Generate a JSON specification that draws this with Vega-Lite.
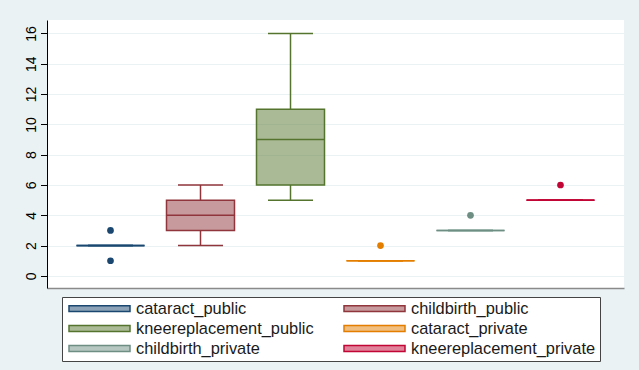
{
  "$schema": "https://vega.github.io/schema/vega-lite/v6.json",
  "autosize": {"type": "none"},
  "width": 577,
  "height": 268,
  "padding": {"left": 47, "top": 20, "right": 15, "bottom": 82},
  "background": "#eaf2f3",
  "config": {
    "font": "Liberation Sans",
    "view": {"fill": "white", "stroke": null},
    "axisY": {
      "title": null,
      "values": [0, 2, 4, 6, 8, 10, 12, 14, 16],
      "labelAngle": 270,
      "labelAlign": "center",
      "labelBaseline": "alphabetic",
      "labelFontSize": 14,
      "labelColor": "black",
      "labelPadding": 5.5,
      "tickSize": 6.5,
      "tickColor": "black",
      "tickWidth": 1,
      "domainColor": "black",
      "domainWidth": 1,
      "grid": true,
      "gridColor": "#eaf2f3",
      "gridWidth": 1.2
    },
    "axisX": {
      "title": null,
      "labels": false,
      "ticks": false,
      "grid": false,
      "domainColor": "#8a8a8a",
      "domainWidth": 1.5
    },
    "legend": {
      "orient": "none",
      "legendX": 15,
      "legendY": 277,
      "direction": "horizontal",
      "columns": 2,
      "padding": 4,
      "rowPadding": 3,
      "columnPadding": 27,
      "clipHeight": 15,
      "symbolType": "M-1,-0.095H1V0.095H-1Z",
      "symbolSize": 3721,
      "symbolOffset": 2,
      "labelOffset": 5,
      "labelFont": "Liberation Sans",
      "labelFontSize": 16.4,
      "labelColor": "#1a1a1a",
      "labelLimit": 400,
      "fillColor": "white",
      "strokeColor": "#444444",
      "strokeWidth": 1
    }
  },
  "datasets": {
    "boxes": [
      {"group": "cataract_public", "lower": 2, "q1": 2, "median": 2, "q3": 2, "upper": 2},
      {"group": "childbirth_public", "lower": 2, "q1": 3, "median": 4, "q3": 5, "upper": 6},
      {"group": "kneereplacement_public", "lower": 5, "q1": 6, "median": 9, "q3": 11, "upper": 16},
      {"group": "cataract_private", "lower": 1, "q1": 1, "median": 1, "q3": 1, "upper": 1},
      {"group": "childbirth_private", "lower": 3, "q1": 3, "median": 3, "q3": 3, "upper": 3},
      {"group": "kneereplacement_private", "lower": 5, "q1": 5, "median": 5, "q3": 5, "upper": 5}
    ],
    "outliers": [
      {"group": "cataract_public", "value": 1},
      {"group": "cataract_public", "value": 3},
      {"group": "cataract_private", "value": 2},
      {"group": "childbirth_private", "value": 4},
      {"group": "kneereplacement_private", "value": 6}
    ]
  },
  "encoding": {
    "x": {
      "field": "group",
      "type": "nominal",
      "scale": {
        "domain": ["cataract_public", "childbirth_public", "kneereplacement_public", "cataract_private", "childbirth_private", "kneereplacement_private"],
        "paddingInner": 0.2444,
        "paddingOuter": 0.3278
      }
    },
    "color": {
      "field": "group",
      "type": "nominal",
      "scale": {
        "domain": ["cataract_public", "childbirth_public", "kneereplacement_public", "cataract_private", "childbirth_private", "kneereplacement_private"],
        "range": ["#1a476f", "#90353b", "#55752f", "#e37e00", "#6e8e84", "#c10534"]
      },
      "legend": {
        "title": null,
        "encode": {
          "symbols": {
            "update": {
              "fill": {"scale": "color", "field": "value"},
              "fillOpacity": {"value": 0.5},
              "stroke": {"scale": "color", "field": "value"},
              "strokeWidth": {"value": 1.5},
              "opacity": {"value": 1}
            }
          }
        }
      }
    }
  },
  "layer": [
    {
      "data": {"name": "boxes"},
      "mark": {"type": "rule", "strokeWidth": 1.5},
      "encoding": {
        "y": {"field": "lower", "type": "quantitative", "scale": {"domain": [-0.8, 16.89], "nice": false, "zero": false}},
        "y2": {"field": "q1"}
      }
    },
    {
      "data": {"name": "boxes"},
      "mark": {"type": "rule", "strokeWidth": 1.5},
      "encoding": {
        "y": {"field": "q3", "type": "quantitative", "scale": {"domain": [-0.8, 16.89], "nice": false, "zero": false}},
        "y2": {"field": "upper"}
      }
    },
    {
      "data": {"name": "boxes"},
      "mark": {"type": "tick", "size": 45, "thickness": 1.5, "opacity": 1},
      "encoding": {
        "y": {"field": "lower", "type": "quantitative", "scale": {"domain": [-0.8, 16.89], "nice": false, "zero": false}}
      }
    },
    {
      "data": {"name": "boxes"},
      "mark": {"type": "tick", "size": 45, "thickness": 1.5, "opacity": 1},
      "encoding": {
        "y": {"field": "upper", "type": "quantitative", "scale": {"domain": [-0.8, 16.89], "nice": false, "zero": false}}
      }
    },
    {
      "data": {"name": "boxes"},
      "mark": {"type": "bar", "fillOpacity": 0.5, "strokeWidth": 1.5},
      "encoding": {
        "y": {"field": "q1", "type": "quantitative", "scale": {"domain": [-0.8, 16.89], "nice": false, "zero": false}},
        "y2": {"field": "q3"},
        "stroke": {
          "field": "group",
          "type": "nominal",
          "scale": {
            "domain": ["cataract_public", "childbirth_public", "kneereplacement_public", "cataract_private", "childbirth_private", "kneereplacement_private"],
            "range": ["#1a476f", "#90353b", "#55752f", "#e37e00", "#6e8e84", "#c10534"]
          },
          "legend": null
        }
      }
    },
    {
      "data": {"name": "boxes"},
      "mark": {"type": "tick", "size": 68, "thickness": 1.6, "opacity": 1},
      "encoding": {
        "y": {"field": "median", "type": "quantitative", "scale": {"domain": [-0.8, 16.89], "nice": false, "zero": false}}
      }
    },
    {
      "data": {"name": "outliers"},
      "mark": {"type": "point", "filled": true, "opacity": 1, "size": 45},
      "encoding": {
        "y": {"field": "value", "type": "quantitative", "scale": {"domain": [-0.8, 16.89], "nice": false, "zero": false}}
      }
    }
  ]
}
